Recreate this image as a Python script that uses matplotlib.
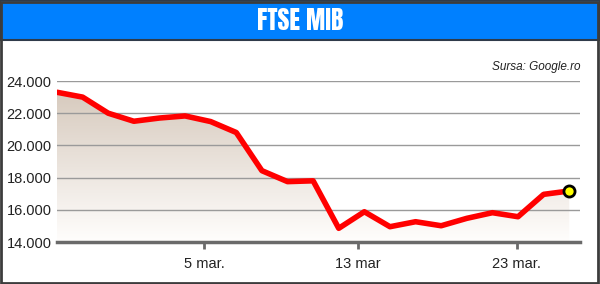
import matplotlib.pyplot as plt
from matplotlib.patches import Rectangle, Polygon
import numpy as np

# FTSE MIB closing values (one per trading day)
values = [23300, 23000, 22000, 21500, 21700, 21830, 21480, 20800, 18430, 17750,
          17800, 14850, 15880, 14950, 15260, 15010, 15470, 15820, 15570, 16960, 17170]
tick_pos = [5.75, 11.75, 17.95]
tick_labels = ['5 mar.', '13 mar', '23 mar.']
y_ticks = [14000, 16000, 18000, 20000, 22000, 24000]
y_labels = ['14.000', '16.000', '18.000', '20.000', '22.000', '24.000']

plt.rcParams['font.family'] = ['Liberation Sans', 'DejaVu Sans']

fig = plt.figure(figsize=(6, 2.84), dpi=100)
fig.patch.set_facecolor('white')

# header band and frame
fig.patches.append(Rectangle((0, 1 - 40 / 284), 1, 40 / 284, transform=fig.transFigure,
                             facecolor='#0080ff', edgecolor='#2f3b4a', linewidth=1.5, zorder=0))
fig.patches.append(Rectangle((0.002, 0.004), 0.995, 0.99, transform=fig.transFigure,
                             facecolor='none', edgecolor='#3c3c3c', linewidth=2, zorder=5))
fig.text(0.5, 1 - 20 / 284, 'FTSE MIB', ha='center', va='center', color='white',
         fontsize=18.5, fontweight=800,
         family=['Anton', 'Oswald', 'Barlow Condensed', 'DejaVu Sans'])
fig.text(580 / 600, 1 - 67 / 284, 'Sursa: Google.ro', ha='right', va='center',
         fontsize=8.5, style='italic', color='#222222')

ax = fig.add_axes([57 / 600, 42 / 284, 523 / 600, 161 / 284])
x = np.arange(len(values))
ax.set_xlim(0, 20.42)
ax.set_ylim(14000, 24000)

# gradient fill under the line
grad = np.linspace(0, 1, 256).reshape(-1, 1)
top = np.array([0.84, 0.79, 0.74])
bot = np.array([1.0, 0.995, 0.99])
img = bot + (top - bot) * grad
img = img.reshape(256, 1, 3)
im = ax.imshow(img, extent=[0, 20.42, 14000, 23500], origin='lower', aspect='auto', zorder=1)
poly = Polygon(list(zip(x, values)) + [(x[-1], 14000), (0, 14000)], closed=True,
               facecolor='none', edgecolor='none')
ax.add_patch(poly)
im.set_clip_path(poly)

ax.yaxis.grid(True, color='#9a9a9a', linewidth=1)
for s in ['top', 'right', 'left']:
    ax.spines[s].set_visible(False)
ax.spines['bottom'].set_color('#6a6a6a')
ax.spines['bottom'].set_linewidth(2.5)
ax.spines['bottom'].set_zorder(4)

ax.plot(x, values, color='#ff0000', linewidth=4, solid_capstyle='round',
        solid_joinstyle='round', zorder=5)
ax.plot(x[-1], values[-1], 'o', markersize=8, markerfacecolor='#ffff00',
        markeredgecolor='black', markeredgewidth=2, zorder=6)

ax.set_yticks(y_ticks)
ax.set_yticklabels(y_labels)
ax.tick_params(axis='y', length=0, pad=4, labelsize=10.5, labelcolor='#222222')
ax.set_xticks(tick_pos)
ax.set_xticklabels(tick_labels)
ax.tick_params(axis='x', length=5, width=2, color='#6a6a6a', pad=6, labelsize=10.5,
               labelcolor='#222222')
ax.patch.set_alpha(0)

# hide gridline at 14000 (axis line sits there)
ax.get_ygridlines()[0].set_visible(False)

fig.savefig('out.png', dpi=100)
